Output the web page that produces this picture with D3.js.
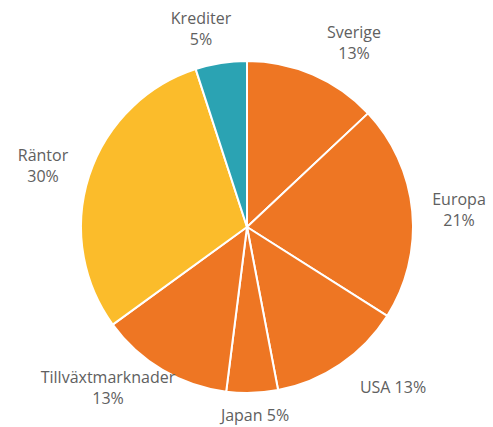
<!DOCTYPE html>
<html><head><meta charset="utf-8">
<script src="https://cdn.jsdelivr.net/npm/d3@7"></script>
<style>body{margin:0;background:#fff}svg{display:block}</style>
</head><body>
<script>
const categories = ["Sverige","Europa","USA","Japan","Tillväxtmarknader","Räntor","Krediter"];
const values = [13,21,13,5,13,30,5];
const labelLines = [["Sverige","13%"],["Europa","21%"],["USA 13%"],["Japan 5%"],["Tillväxtmarknader","13%"],["Räntor","30%"],["Krediter","5%"]];
const colors = ["#EE7623","#EE7623","#EE7623","#EE7623","#EE7623","#FBBC2B","#2BA3B3"];
const labelPos = [[354,32],[459,199],[393,387],[255,415],[108,377],[43,155],[201,18]];

const W=493,H=427,cx=247,cy=227,R=166;
const svg=d3.select("body").append("svg").attr("width",W).attr("height",H);
const pie=d3.pie().sort(null).value(d=>d);
const arc=d3.arc().innerRadius(0).outerRadius(R);
const g=svg.append("g").attr("transform",`translate(${cx},${cy})`);
g.selectAll("path").data(pie(values)).join("path")
 .attr("d",arc).attr("fill",(d,i)=>colors[i])
 .attr("stroke","#fff").attr("stroke-width",2).attr("stroke-linejoin","round");
const t=svg.selectAll("text.l").data(categories).join("text").attr("class","l")
 .attr("font-family","'Open Sans', sans-serif").attr("font-size",16).attr("fill","#606060")
 .attr("text-anchor","middle");
t.each(function(d,i){
  const el=d3.select(this);
  labelLines[i].forEach((s,k)=>{
    el.append("tspan").attr("x",labelPos[i][0]).attr("y",labelPos[i][1]+k*21).attr("dy","0.35em").text(s);
  });
});
</script>
</body></html>
